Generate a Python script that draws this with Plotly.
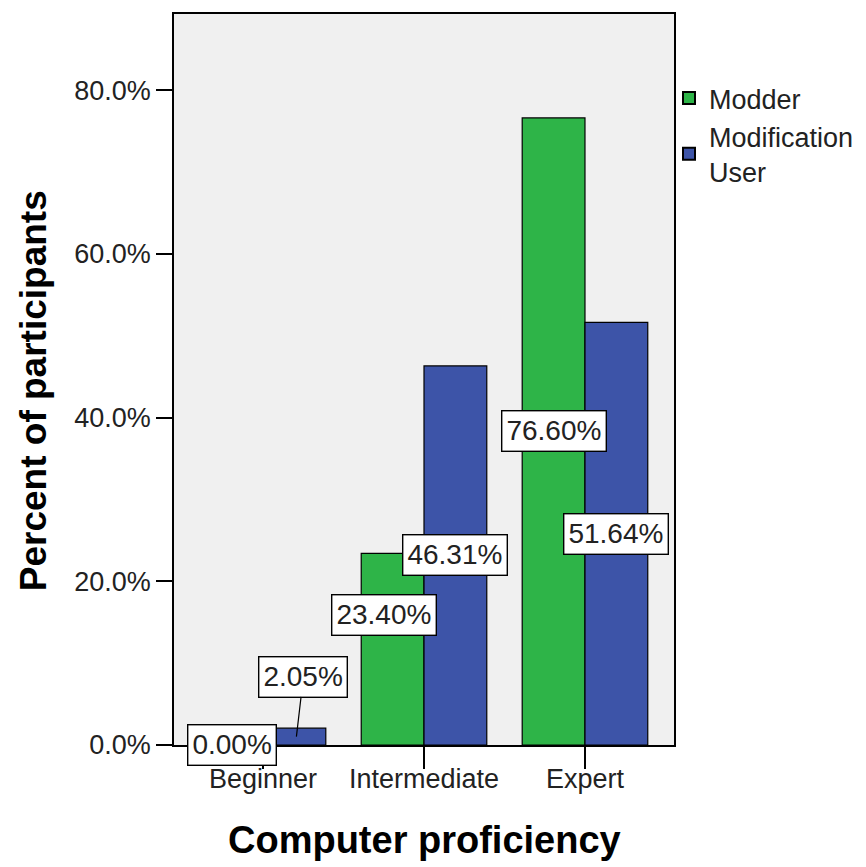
import plotly.graph_objects as go

categories = ["Beginner", "Intermediate", "Expert"]
modder = [0.00, 23.40, 76.60]
mod_user = [2.05, 46.31, 51.64]
y_ticks = [0, 20, 40, 60, 80]

GREEN = "rgb(46,180,72)"
BLUE = "rgb(61,84,168)"
FONT = "Liberation Sans, Arial, sans-serif"
TXT = "#222"
BARGAP = 0.22
OFF = (1 - BARGAP) / 4

fig = go.Figure()
fig.add_trace(go.Bar(x=categories, y=modder, name="Modder",
                     marker=dict(color=GREEN, line=dict(color="black", width=1.2))))
fig.add_trace(go.Bar(x=categories, y=mod_user, name="Modification<br>User",
                     marker=dict(color=BLUE, line=dict(color="black", width=1.2))))

lab_font = dict(family=FONT, size=28, color=TXT)
box = dict(bgcolor="white", bordercolor="black", borderwidth=1.4, borderpad=4, font=lab_font)
ann = []
for i, v in enumerate(modder):
    xs, ys = 0, 0
    if i == 1:
        xs, ys = -9, 34
    ann.append(dict(x=i - OFF, y=v / 2, xref="x", yref="y", text=f"{v:.2f}%",
                    showarrow=False, xshift=xs, yshift=ys, **box))
for i, v in enumerate(mod_user):
    if i == 0:
        ann.append(dict(x=i + OFF, y=v / 2, xref="x", yref="y", text=f"{v:.2f}%",
                        showarrow=True, arrowhead=0, arrowwidth=1.2, arrowcolor="black",
                        ax=7, ay=-60, xshift=2, **box))
    else:
        ann.append(dict(x=i + OFF, y=v / 2, xref="x", yref="y", text=f"{v:.2f}%",
                        showarrow=False, **box))

# axis titles
ann.append(dict(x=0.5, y=-95 / 733, xref="paper", yref="paper", xanchor="center", yanchor="middle",
                text="<b>Computer proficiency</b>", showarrow=False,
                font=dict(family=FONT, size=38, color="black")))
ann.append(dict(x=-141 / 500, y=0.484, xref="paper", yref="paper", xanchor="center", yanchor="middle",
                text="<b>Percent of participants</b>", showarrow=False, textangle=-90,
                font=dict(family=FONT, size=37, color="black")))

fig.update_layout(
    width=858, height=859,
    margin=dict(l=166, r=192, t=4, b=122),
    paper_bgcolor="white", plot_bgcolor="#F0F0F0",
    barmode="group", bargap=BARGAP, bargroupgap=0,
    font=dict(family=FONT, size=27, color=TXT),
    annotations=ann,
    showlegend=True,
    legend=dict(x=0.99, y=0.918, xanchor="left", yanchor="top",
                font=dict(family=FONT, size=27, color=TXT),
                bgcolor="rgba(0,0,0,0)", tracegroupgap=0, itemsizing="constant"),
)
fig.update_xaxes(
    range=[-0.553, 2.553],
    showline=True, linecolor="black", linewidth=1.5, mirror=True,
    ticks="outside", ticklen=22, tickwidth=1.5, tickcolor="black",
    ticklabelstandoff=-13,
    tickfont=dict(family=FONT, size=27, color=TXT),
    showgrid=False,
)
fig.update_yaxes(
    range=[0, 89.3], tickvals=y_ticks, ticktext=[f"{t:.1f}%" for t in y_ticks],
    showline=True, linecolor="black", linewidth=1.5, mirror=True,
    ticks="outside", ticklen=16, tickwidth=1.5, tickcolor="black",
    tickfont=dict(family=FONT, size=27, color=TXT),
    showgrid=False, zeroline=False,
)

fig.write_html("out.html")
